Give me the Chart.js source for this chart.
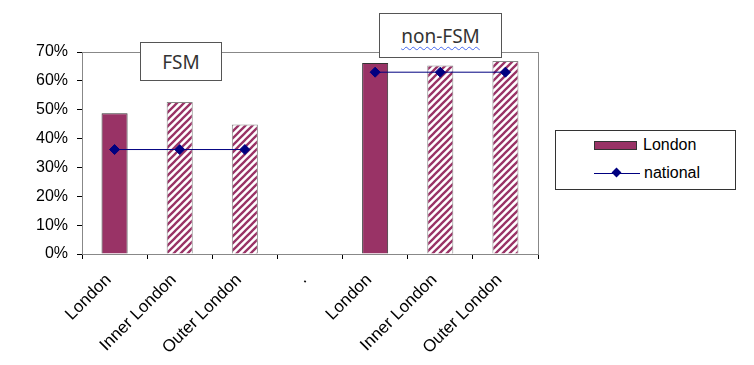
<!DOCTYPE html>
<html>
<head>
<meta charset="utf-8">
<script src="https://cdn.jsdelivr.net/npm/chart.js@4.4.1/dist/chart.umd.min.js"></script>
<style>
  html, body { margin: 0; padding: 0; background: #fff; }
  #wrap { position: relative; width: 754px; height: 365px; }
  canvas { position: absolute; left: 0; top: 0; }
  .tag {
    position: absolute; background: #fff; border: 1px solid #555;
    font-family: "Noto Sans", sans-serif; font-size: 19px; color: #333;
    display: flex; align-items: center; justify-content: center; box-sizing: border-box;
  }
  .wavy { text-decoration: underline wavy #4466ee; text-decoration-thickness: 1px; text-underline-offset: 3px; }
  #legend {
    position: absolute; left: 555px; top: 130px; width: 181px; height: 60px;
    border: 1px solid #333; box-sizing: border-box; background: #fff;
    font-family: "Liberation Sans", Arial, sans-serif; font-size: 16px; color: #000;
  }
  .row { position: absolute; left: 38px; height: 18px; display: flex; align-items: center; }
  .bar-sw { width: 41px; height: 7px; background: #993366; border: 1px solid #333; margin-right: 6px; }
  .line-sw { position: relative; width: 46px; height: 1px; background: #000080; margin-right: 4px; }
  .line-sw i { position: absolute; left: 19px; top: -4px; width: 7px; height: 7px; background: #000080; transform: rotate(45deg); }
</style>
</head>
<body>
<div id="wrap">
  <canvas id="chart" width="754" height="365"></canvas>
  <div class="tag" style="left:140px; top:42px; width:82px; height:39px;">FSM</div>
  <div class="tag" style="left:379px; top:13px; width:123px; height:45px;"><span class="wavy">non-FSM</span></div>
  <div id="legend">
    <div class="row" style="top:5px;"><span class="bar-sw"></span>London</div>
    <div class="row" style="top:33px;"><span class="line-sw"><i></i></span>national</div>
  </div>
</div>
<script>
const categories = ['London', 'Inner London', 'Outer London', '.', 'London', 'Inner London', 'Outer London'];
const londonValues = [48.8, 52.7, 44.9, null, 66.2, 65.3, 66.9];
const nationalValues = [36.2, 36.2, 36.2, null, 63.0, 63.0, 63.0];
const yTicks = [0, 10, 20, 30, 40, 50, 60, 70];

const maroon = '#993366';

function makeHatch() {
    const s = 7;
    const c = document.createElement('canvas');
    c.width = s; c.height = s;
    const g = c.getContext('2d');
    g.fillStyle = '#fff';
    g.fillRect(0, 0, s, s);
    g.strokeStyle = maroon;
    g.lineWidth = 2.3;
    g.beginPath();
    g.moveTo(-1, s + 1); g.lineTo(s + 1, -1);
    g.moveTo(-1, 1); g.lineTo(1, -1);
    g.moveTo(s - 1, s + 1); g.lineTo(s + 1, s - 1);
    g.stroke();
    return g.createPattern(c, 'repeat');
}
const hatch = makeHatch();
const isSubArea = categories.map(c => c.indexOf('Inner') === 0 || c.indexOf('Outer') === 0);

// grey plot-area frame, like the spreadsheet original
const frame = {
    id: 'frame',
    beforeDatasetsDraw(chart) {
        const a = chart.chartArea, ctx = chart.ctx;
        ctx.save();
        ctx.strokeStyle = '#888';
        ctx.lineWidth = 1;
        ctx.strokeRect(a.left + 0.5, a.top + 0.5, a.right - a.left, a.bottom - a.top);
        ctx.restore();
    }
};

const font = { family: '"Liberation Sans", Arial, sans-serif', size: 16 };

new Chart(document.getElementById('chart'), {
    data: {
        labels: categories,
        datasets: [
            {
                type: 'line',
                label: 'national',
                data: nationalValues,
                borderColor: '#000080',
                backgroundColor: '#000080',
                borderWidth: 1,
                pointStyle: 'rectRot',
                pointRadius: 5,
                spanGaps: false,
                order: 0
            },
            {
                type: 'bar',
                label: 'London',
                data: londonValues,
                backgroundColor: isSubArea.map(h => h ? hatch : maroon),
                borderColor: isSubArea.map(h => h ? '#888' : '#333'),
                borderWidth: 1,
                barPercentage: 0.4,
                categoryPercentage: 1,
                order: 1
            }
        ]
    },
    options: {
        responsive: false,
        animation: false,
        layout: { padding: { left: 0, right: 216, top: 52, bottom: 0 } },
        plugins: { legend: { display: false }, tooltip: { enabled: false } },
        scales: {
            x: {
                offset: true,
                grid: { offset: true, drawOnChartArea: false, color: '#000', tickLength: 5 },
                border: { color: '#000', width: 1 },
                ticks: {
                    color: '#000', font: { family: font.family, size: 17 },
                    minRotation: 45, maxRotation: 45, padding: 11, labelOffset: -6
                },
                afterFit(s) { s.height = 111; }
            },
            y: {
                min: 0,
                max: 70,
                afterBuildTicks(s) { s.ticks = yTicks.map(v => ({ value: v })); },
                grid: { drawOnChartArea: false, color: '#000', tickLength: 5 },
                border: { color: '#000', width: 1 },
                ticks: { color: '#000', font: font, padding: 9, callback: v => v + '%' },
                afterFit(s) { s.width = 82; }
            }
        }
    },
    plugins: [frame]
});
</script>
</body>
</html>
